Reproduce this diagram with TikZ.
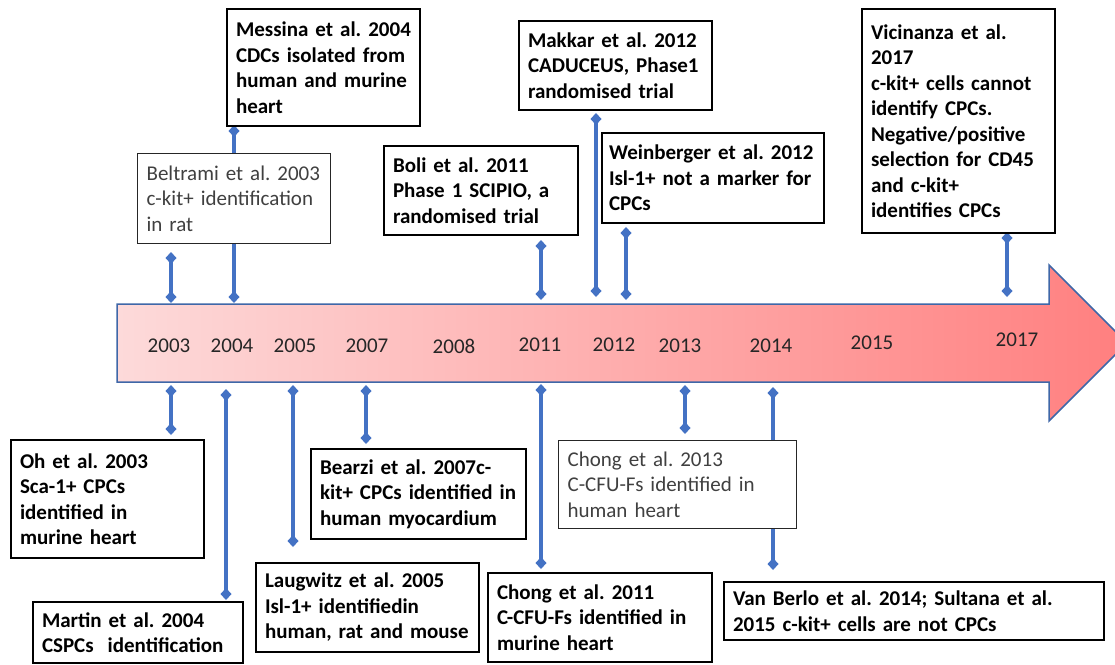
\documentclass[tikz,border=0pt]{standalone}
\usepackage{fontspec}
\setmainfont{Carlito}
\usetikzlibrary{arrows.meta}
\definecolor{cblue}{HTML}{4472C4}
\definecolor{aborder}{HTML}{3F67A8}
\definecolor{pinkL}{HTML}{FDDADA}
\definecolor{pinkR}{HTML}{FF7F7F}
\definecolor{greytext}{HTML}{404040}
\tikzset{
 evbox/.style={fill=white, anchor=north west, align=left, inner xsep=9pt, inner ysep=0pt, font=\fontsize{21}{25.5}\selectfont},
 boldbox/.style={evbox, draw=black, line width=2pt, font=\bfseries\fontsize{21}{25.5}\selectfont},
 plainbox/.style={evbox, draw=black!85, line width=1.2pt, text=greytext},
 yearlbl/.style={font=\fontsize{21}{25}\selectfont, text=black!85},
 conn/.style={draw=cblue, line width=3.6pt, {Diamond[length=12pt,width=11pt]}-{Diamond[length=12pt,width=11pt]}},
}
\begin{document}
\frenchspacing
\begin{tikzpicture}[x=1pt,y=-1pt]
\useasboundingbox (0,0) rectangle (1115,664);
\clip (0,0) rectangle (1115,664);
% timeline arrow
\path[left color=pinkL, right color=pinkR, draw=aborder, line width=1.5pt, line join=miter]
 (117,304) -- (1049,304) -- (1049,265) -- (1127,343) -- (1049,421) -- (1049,382) -- (117,382) -- cycle;
% years
\node[yearlbl] (y2003) at (169,346) {2003};
\node[yearlbl] (y2004) at (232,346) {2004};
\node[yearlbl] (y2005) at (295,346) {2005};
\node[yearlbl] (y2007) at (367,346) {2007};
\node[yearlbl] (y2008) at (454,346) {2008};
\node[yearlbl] (y2011) at (540,345) {2011};
\node[yearlbl] (y2012) at (614,345) {2012};
\node[yearlbl] (y2013) at (680,346) {2013};
\node[yearlbl] (y2014) at (771,346) {2014};
\node[yearlbl] (y2015) at (872,343) {2015};
\node[yearlbl] (y2017) at (1017,340) {2017};
% connector end points
\coordinate (u1a) at (171,252); \coordinate (u1b) at (171,303);
\coordinate (u2a) at (234,125); \coordinate (u2b) at (234,303);
\coordinate (u3a) at (541,240); \coordinate (u3b) at (541,300);
\coordinate (u4a) at (596,113); \coordinate (u4b) at (596,297);
\coordinate (u5a) at (626,227); \coordinate (u5b) at (626,300);
\coordinate (u6a) at (1007,232); \coordinate (u6b) at (1007,297);
\coordinate (d1a) at (171,385); \coordinate (d1b) at (171,435);
\coordinate (d2a) at (226,389); \coordinate (d2b) at (226,600);
\coordinate (d3a) at (293,385); \coordinate (d3b) at (293,547);
\coordinate (d4a) at (366,385); \coordinate (d4b) at (366,444);
\coordinate (d5a) at (541,384); \coordinate (d5b) at (541,569);
\coordinate (d6a) at (685,385); \coordinate (d6b) at (685,434);
\coordinate (d7a) at (773,387); \coordinate (d7b) at (773,570);
\draw[conn] (u1a) -- (u1b);
\draw[conn] (u2a) -- (u2b);
\draw[conn] (u3a) -- (u3b);
\draw[conn] (u4a) -- (u4b);
\draw[conn] (u5a) -- (u5b);
\draw[conn] (u6a) -- (u6b);
\draw[conn] (d1a) -- (d1b);
\draw[conn] (d2a) -- (d2b);
\draw[conn] (d3a) -- (d3b);
\draw[conn] (d4a) -- (d4b);
\draw[conn] (d5a) -- (d5b);
\draw[conn] (d6a) -- (d6b);
\draw[conn] (d7a) -- (d7b);
% boxes above
\node[boldbox, text width=175pt, minimum height=117pt] (messina) at (226,8)
 {Messina~et~al.~2004\\CDCs isolated from\\human and murine\\heart};
\node[plainbox, text width=175pt, minimum height=90pt] (beltrami) at (137,153)
 {Beltrami~et~al.~2003\\c-kit+ identification\\in rat};
\node[boldbox, text width=176pt, minimum height=89pt] (boli) at (383,145)
 {Boli et al. 2011\\Phase 1 SCIPIO, a\\randomised trial};
\node[boldbox, text width=175pt, minimum height=89pt] (makkar) at (518,20)
 {Makkar et al. 2012\\CADUCEUS, Phase1\\randomised trial};
\node[boldbox, inner xsep=7pt, text width=208pt, minimum height=90pt] (weinberger) at (601,132)
 {Weinberger~et~al.~2012\\Isl-1+~not~a~marker~for\\CPCs};
\node[boldbox, text width=175pt, minimum height=224pt] (vicinanza) at (861,8)
 {Vicinanza et al.\\2017\\c-kit+ cells cannot\\identify CPCs.\\Negative/positive\\selection for CD45\\and c-kit+\\identifies CPCs};
% boxes below
\node[boldbox, text width=175pt, minimum height=118pt] (oh) at (10,439)
 {Oh et al. 2003\\Sca-1+ CPCs\\identified in\\murine heart};
\node[boldbox, text width=192pt, minimum height=61pt] (martin) at (32,601)
 {Martin et al. 2004\\CSPCs\ \ identification};
\node[boldbox, text width=205pt, minimum height=89pt] (laugwitz) at (255,562)
 {Laugwitz~et~al.~2005\\Isl-1+ identifiedin\\human,~rat~and~mouse};
\node[boldbox, text width=197pt, minimum height=90pt] (bearzi) at (310,448)
 {Bearzi~et~al.~2007c-\\kit+~CPCs~identified~in\\human myocardium};
\node[boldbox, text width=206pt, minimum height=89pt] (chong11) at (487,572)
 {Chong et al. 2011\\C-CFU-Fs~identified~in\\murine heart};
\node[plainbox, text width=220pt, minimum height=88pt] (chong13) at (558,440)
 {Chong et al. 2013\\C-CFU-Fs identified in\\human heart};
\node[boldbox, text width=362pt, minimum height=58pt] (vanberlo) at (723,581)
 {Van Berlo et al. 2014; Sultana et al.\\2015 c-kit+ cells are not CPCs};
\end{tikzpicture}
\end{document}
